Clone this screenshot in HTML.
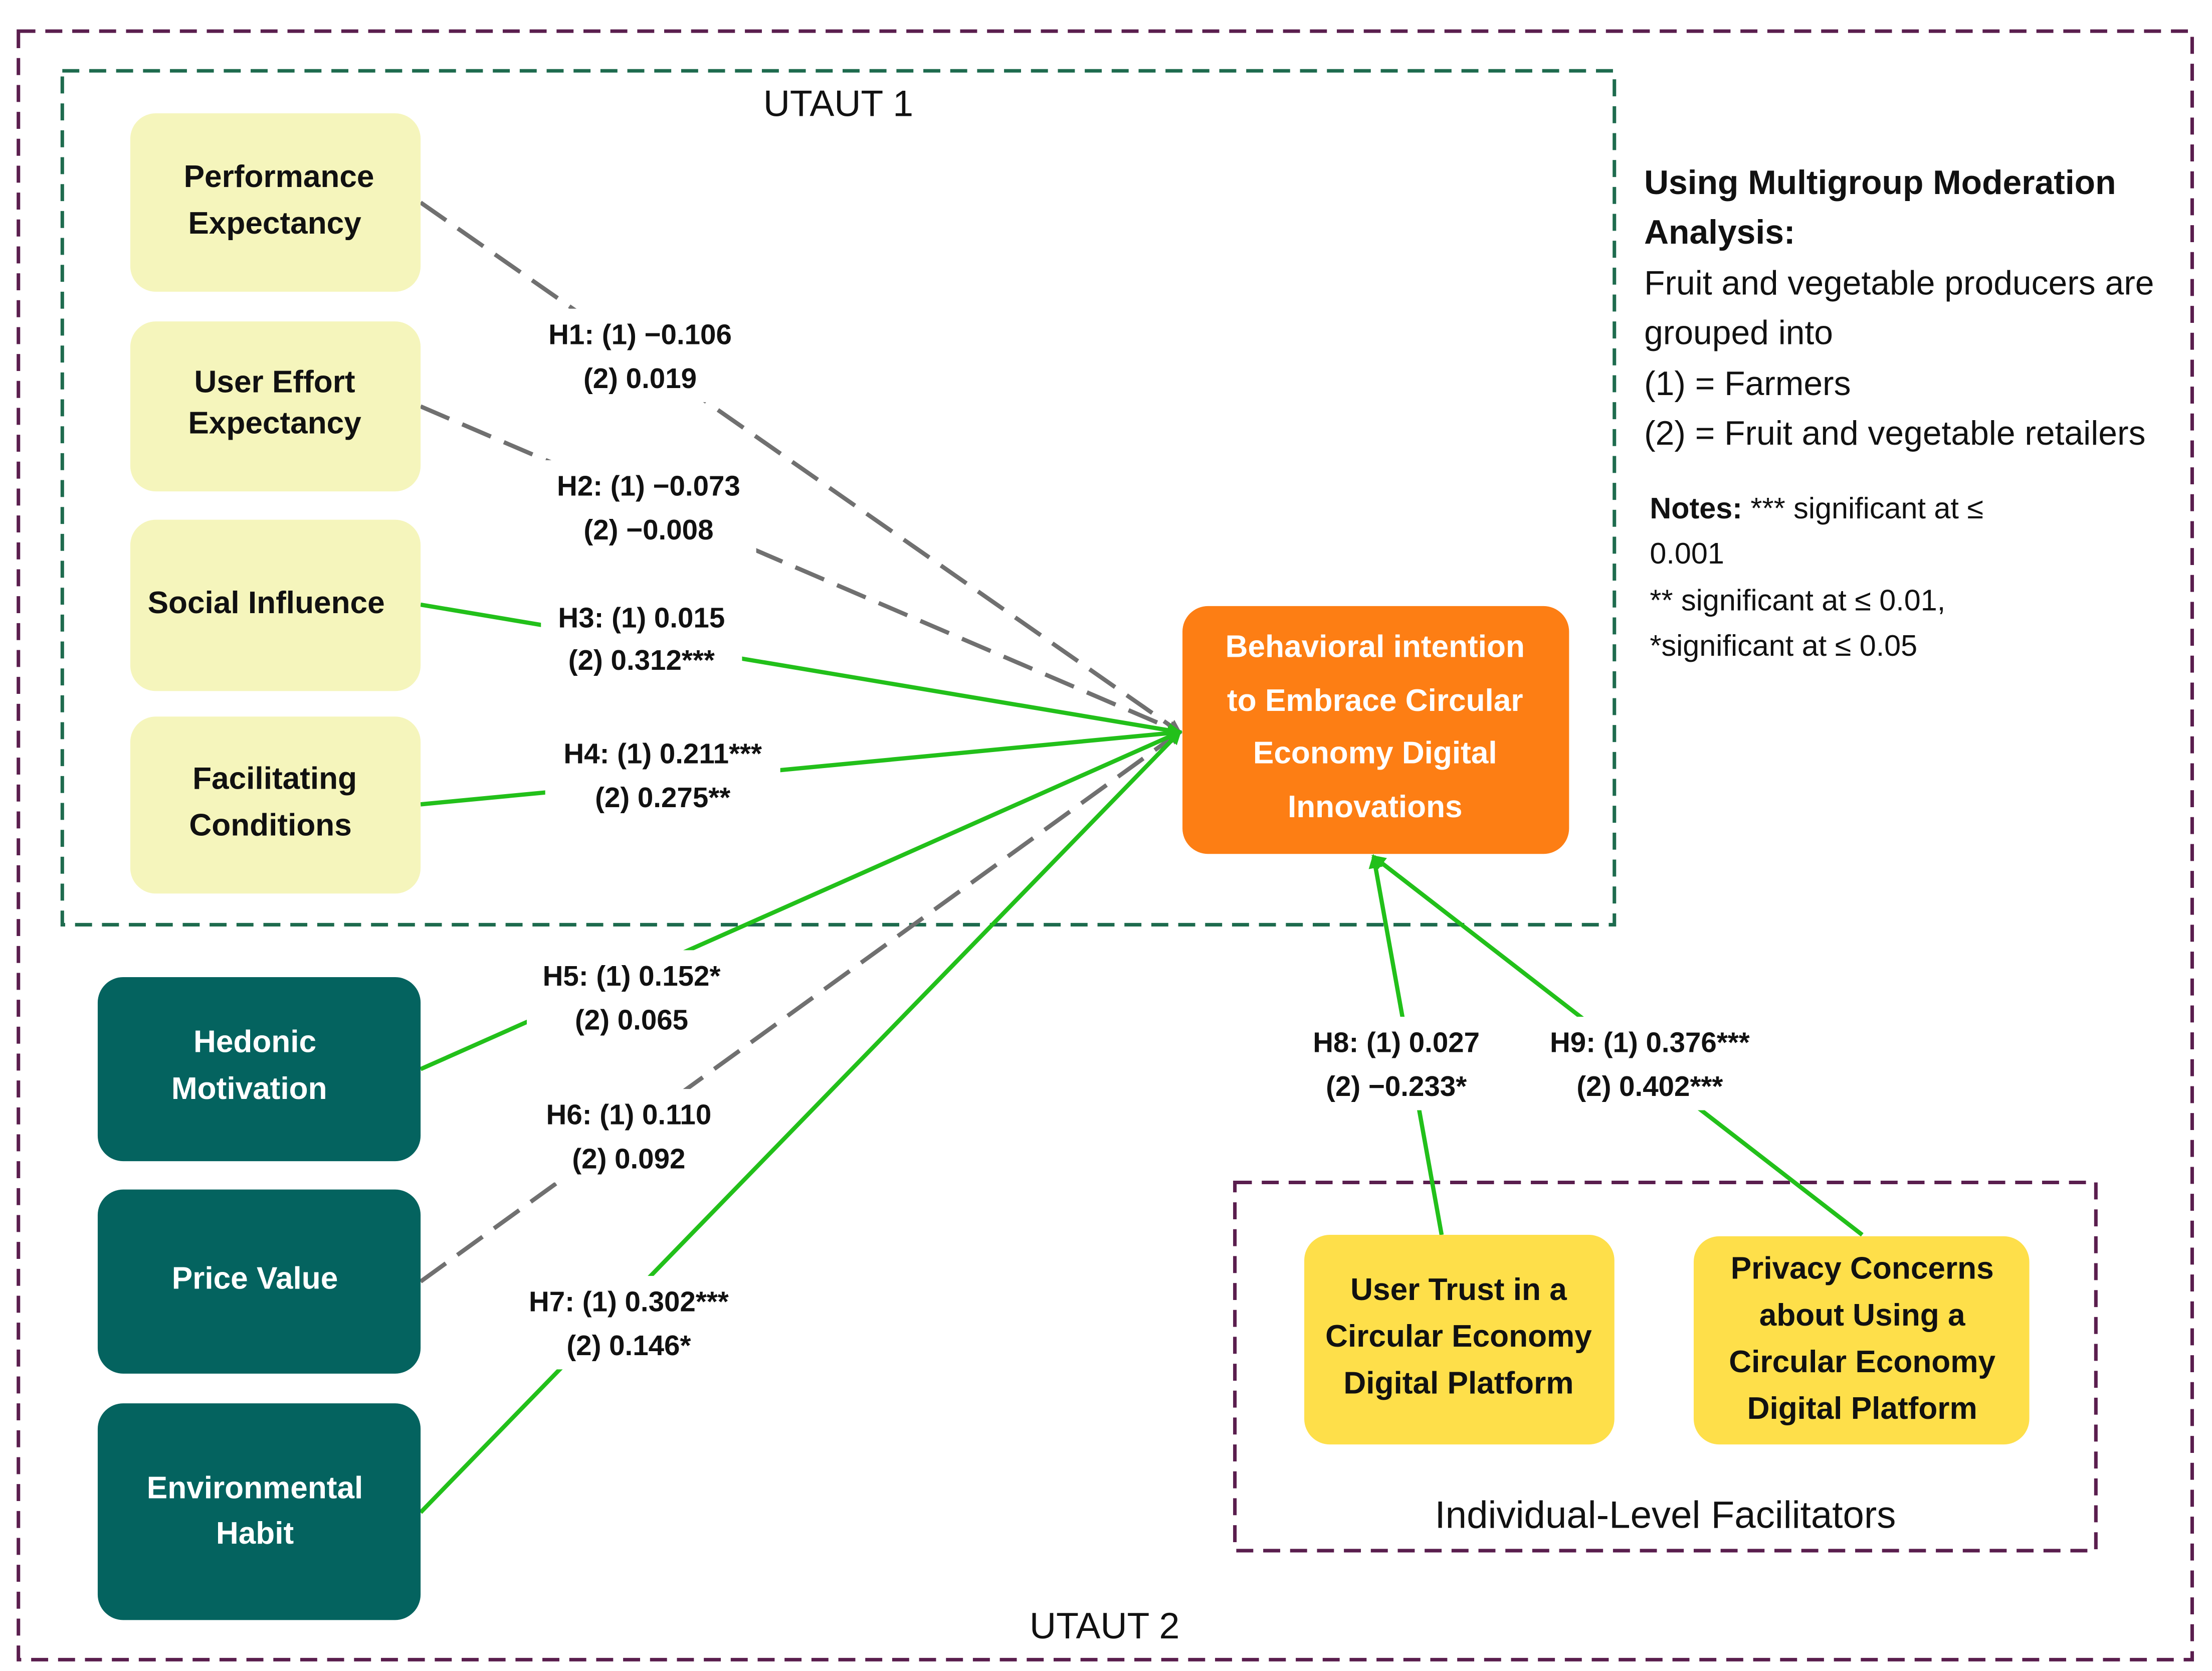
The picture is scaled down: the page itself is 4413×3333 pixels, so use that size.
<!DOCTYPE html>
<html><head><meta charset="utf-8"><style>
html,body{margin:0;padding:0;background:#fff;}
svg{display:block;}
text{font-family:"Liberation Sans","DejaVu Sans",sans-serif;}
.lb{font-weight:bold;font-size:20px;fill:#111;text-anchor:middle;}
.bx{font-weight:bold;font-size:22px;text-anchor:middle;}
</style></head><body>
<svg width="4413" height="3333" viewBox="0 0 1562 1180" preserveAspectRatio="none" xmlns="http://www.w3.org/2000/svg">
<defs>
<marker id="ag" markerWidth="10" markerHeight="10" refX="8" refY="5" orient="auto" markerUnits="userSpaceOnUse"><path d="M0,0 L10,5 L0,10 z" fill="#22c01a"/></marker>
<marker id="ay" markerWidth="10" markerHeight="10" refX="8" refY="5" orient="auto" markerUnits="userSpaceOnUse"><path d="M0,0 L10,5 L0,10 z" fill="#707070"/></marker>
</defs>
<rect width="1562" height="1180" fill="#fff"/>
<rect x="13" y="22" width="1535" height="1150" fill="none" stroke="#5a1e4e" stroke-width="2.5" stroke-dasharray="12,7"/>
<rect x="44" y="50" width="1096" height="603" fill="none" stroke="#1e6b4e" stroke-width="2.5" stroke-dasharray="12,7"/>
<text x="592" y="82" font-size="26" text-anchor="middle" fill="#111">UTAUT 1</text>
<text x="780" y="1157" font-size="26" text-anchor="middle" fill="#111">UTAUT 2</text>
<rect x="872" y="835" width="608" height="260" fill="none" stroke="#5a1e4e" stroke-width="2.5" stroke-dasharray="12,7"/>
<text x="1176" y="1079" font-size="27" text-anchor="middle" fill="#111">Individual-Level Facilitators</text>

<g stroke-width="3" fill="none">
<line x1="297" y1="143" x2="833" y2="517" stroke="#707070" stroke-dasharray="22,10" marker-end="url(#ay)"/>
<line x1="297" y1="287" x2="833" y2="517" stroke="#707070" stroke-dasharray="22,10" marker-end="url(#ay)"/>
<line x1="297" y1="905" x2="833" y2="517" stroke="#707070" stroke-dasharray="22,10" marker-end="url(#ay)"/>
<line x1="297" y1="427" x2="833" y2="517" stroke="#22c01a" marker-end="url(#ag)"/>
<line x1="297" y1="568" x2="833" y2="517" stroke="#22c01a" marker-end="url(#ag)"/>
<line x1="297" y1="755" x2="833" y2="517" stroke="#22c01a" marker-end="url(#ag)"/>
<line x1="297" y1="1068" x2="833" y2="517" stroke="#22c01a" marker-end="url(#ag)"/>
<line x1="1018" y1="872" x2="970" y2="605" stroke="#22c01a" marker-end="url(#ag)"/>
<line x1="1315" y1="872" x2="970" y2="605" stroke="#22c01a" marker-end="url(#ag)"/>
</g>

<g fill="#fff">
<rect x="376" y="218" width="152" height="66"/>
<rect x="382" y="325" width="152" height="66"/>
<rect x="382" y="418" width="142" height="66"/>
<rect x="385" y="514" width="166" height="66"/>
<rect x="372" y="671" width="148" height="66"/>
<rect x="374" y="769" width="140" height="66"/>
<rect x="376" y="901" width="138" height="66"/>
<rect x="916" y="718" width="140" height="66"/>
<rect x="1084" y="718" width="162" height="66"/>
</g>
<g>
<text x="452" y="243" class="lb">H1: (1) −0.106</text><text x="452" y="274" class="lb">(2) 0.019</text>
<text x="458" y="350" class="lb">H2: (1) −0.073</text><text x="458" y="381" class="lb">(2) −0.008</text>
<text x="453" y="443" class="lb">H3: (1) 0.015</text><text x="453" y="473" class="lb">(2) 0.312***</text>
<text x="468" y="539" class="lb">H4: (1) 0.211***</text><text x="468" y="570" class="lb">(2) 0.275**</text>
<text x="446" y="696" class="lb">H5: (1) 0.152*</text><text x="446" y="727" class="lb">(2) 0.065</text>
<text x="444" y="794" class="lb">H6: (1) 0.110</text><text x="444" y="825" class="lb">(2) 0.092</text>
<text x="444" y="926" class="lb">H7: (1) 0.302***</text><text x="444" y="957" class="lb">(2) 0.146*</text>
<text x="986" y="743" class="lb">H8: (1) 0.027</text><text x="986" y="774" class="lb">(2) −0.233*</text>
<text x="1165" y="743" class="lb">H9: (1) 0.376***</text><text x="1165" y="774" class="lb">(2) 0.402***</text>
</g>

<g fill="#f5f5bc">
<rect x="92" y="80" width="205" height="126" rx="18"/>
<rect x="92" y="227" width="205" height="120" rx="18"/>
<rect x="92" y="367" width="205" height="121" rx="18"/>
<rect x="92" y="506" width="205" height="125" rx="18"/>
</g>
<g fill="#111">
<text x="197" y="132" class="bx">Performance</text><text x="194" y="165" class="bx">Expectancy</text>
<text x="194" y="277" class="bx" font-size="19">User Effort</text><text x="194" y="306" class="bx" font-size="19">Expectancy</text>
<text x="188" y="433" class="bx">Social Influence</text>
<text x="194" y="557" class="bx">Facilitating</text><text x="191" y="590" class="bx">Conditions</text>
</g>

<g fill="#04635f">
<rect x="69" y="690" width="228" height="130" rx="18"/>
<rect x="69" y="840" width="228" height="130" rx="18"/>
<rect x="69" y="991" width="228" height="153" rx="18"/>
</g>
<g fill="#fff">
<text x="180" y="743" class="bx">Hedonic</text><text x="176" y="776" class="bx">Motivation</text>
<text x="180" y="910" class="bx">Price Value</text>
<text x="180" y="1058" class="bx">Environmental</text><text x="180" y="1090" class="bx">Habit</text>
</g>

<rect x="835" y="428" width="273" height="175" rx="18" fill="#fd7e14"/>
<g fill="#fff">
<text x="971" y="464" class="bx" font-size="25">Behavioral intention</text>
<text x="971" y="502" class="bx" font-size="25">to Embrace Circular</text>
<text x="971" y="539" class="bx" font-size="25">Economy Digital</text>
<text x="971" y="577" class="bx" font-size="25">Innovations</text>
</g>

<rect x="921" y="872" width="219" height="148" rx="18" fill="#fedf4a"/>
<rect x="1196" y="873" width="237" height="147" rx="18" fill="#fedf4a"/>
<g fill="#111">
<text x="1030" y="918" class="bx">User Trust in a</text>
<text x="1030" y="951" class="bx">Circular Economy</text>
<text x="1030" y="984" class="bx">Digital Platform</text>
<text x="1315" y="903" class="bx">Privacy Concerns</text>
<text x="1315" y="936" class="bx">about Using  a</text>
<text x="1315" y="969" class="bx">Circular Economy</text>
<text x="1315" y="1002" class="bx">Digital Platform</text>
</g>

<g fill="#111" font-size="24">
<text x="1161" y="137" font-weight="bold">Using Multigroup Moderation</text>
<text x="1161" y="172" font-weight="bold">Analysis:</text>
<text x="1161" y="208">Fruit and vegetable producers are</text>
<text x="1161" y="243">grouped into</text>
<text x="1161" y="279">(1) = Farmers</text>
<text x="1161" y="314">(2) = Fruit and vegetable retailers</text>
</g>
<g fill="#111" font-size="21">
<text x="1165" y="366"><tspan font-weight="bold">Notes:</tspan> *** significant at ≤</text>
<text x="1165" y="398">0.001</text>
<text x="1165" y="431">** significant at ≤ 0.01,</text>
<text x="1165" y="463">*significant at ≤ 0.05</text>
</g>
</svg>
</body></html>
